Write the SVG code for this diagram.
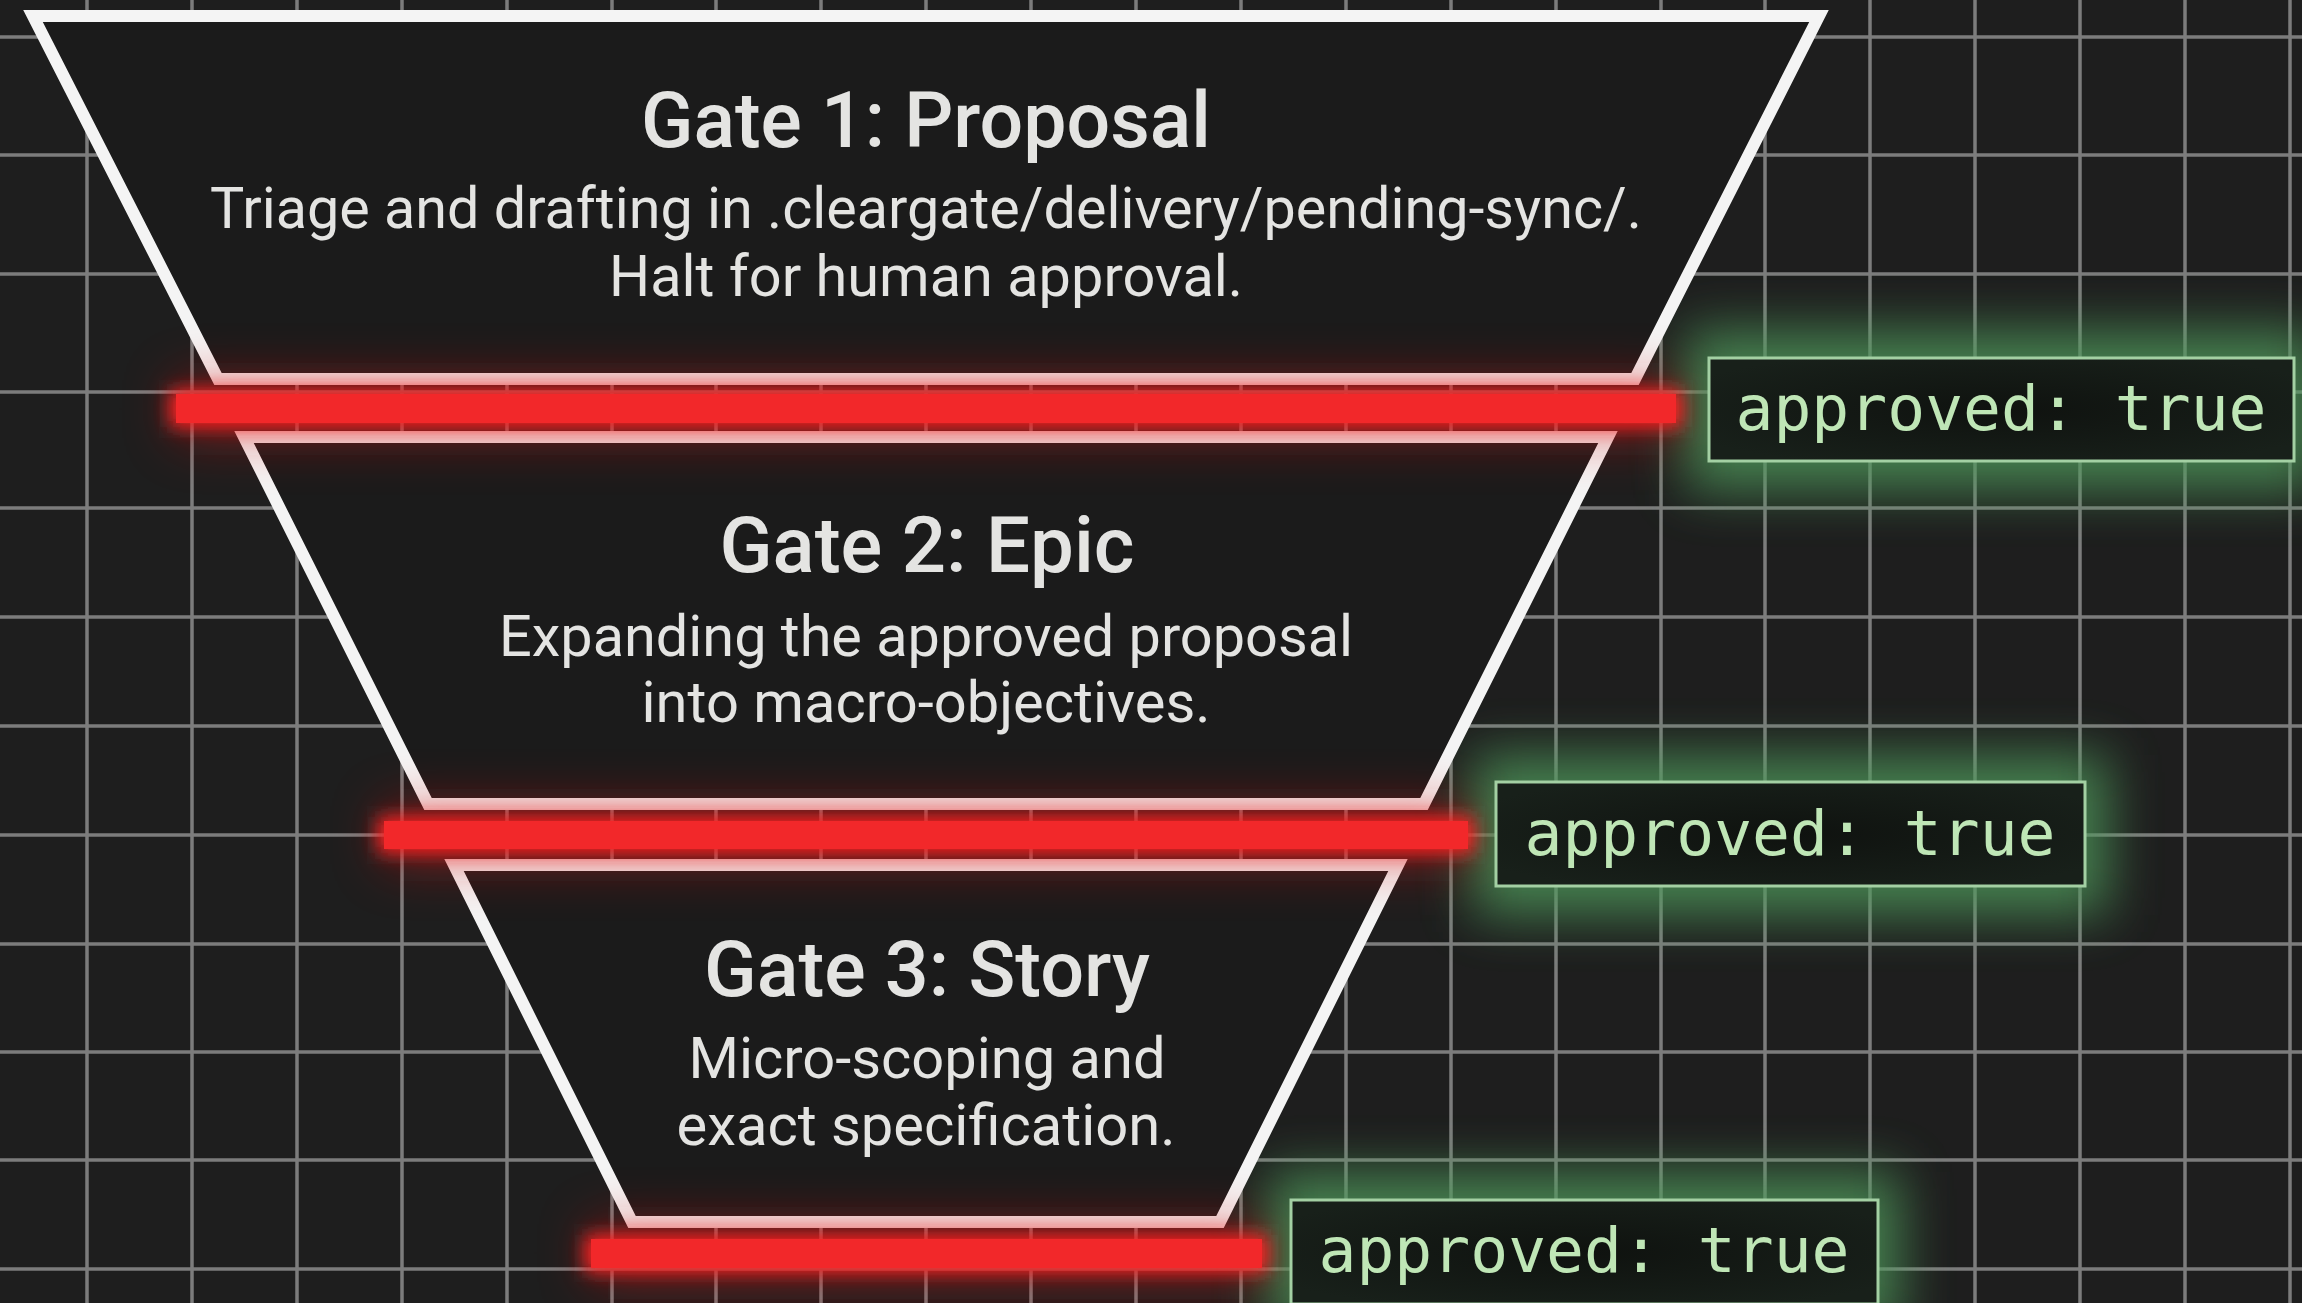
<svg xmlns="http://www.w3.org/2000/svg" width="2302" height="1303" viewBox="0 0 2302 1303">
<defs>
<style>
.grid line{stroke:#7c7c7c;stroke-width:3.5}
.trap{fill:#1b1b1b;stroke:#f4f4f4;stroke-width:12;stroke-linejoin:miter}
.title{font-family:Roboto,"Liberation Sans",sans-serif;font-weight:500;font-size:78px;fill:#e4e4e2;text-anchor:middle}
.sub{font-family:Roboto,"Liberation Sans",sans-serif;font-weight:400;font-size:58px;fill:#e4e4e2;text-anchor:middle}
.bar{fill:#f2282a}
.glowr{fill:#ff2020;filter:url(#blurR)}
.hazer{fill:#d01818;opacity:0.5;filter:url(#blurRH)}
.glowg{fill:#4f9a5c;opacity:0.8;filter:url(#blurG)}
.box{fill:url(#boxFill);stroke:#a3d0a3;stroke-width:3}
.code{font-family:"DejaVu Sans Mono","Liberation Mono",monospace;font-size:63px;fill:#bfe6b6;text-anchor:middle}
</style>
<filter id="blurR" x="-20%" y="-200%" width="140%" height="500%"><feGaussianBlur stdDeviation="9"/></filter>
<filter id="blurRH" x="-20%" y="-300%" width="140%" height="700%"><feGaussianBlur stdDeviation="26"/></filter>
<filter id="blurG" x="-30%" y="-100%" width="160%" height="300%"><feGaussianBlur stdDeviation="26"/></filter>
<radialGradient id="boxFill" cx="0.5" cy="0.5" r="0.6">
<stop offset="0" stop-color="#0f120f"/>
<stop offset="1" stop-color="#18201a"/>
</radialGradient>
</defs>
<rect width="2302" height="1303" fill="#1e1e1e"/>
<g id="grid" class="grid">
<line x1="87" y1="0" x2="87" y2="1303"/><line x1="192" y1="0" x2="192" y2="1303"/><line x1="297" y1="0" x2="297" y2="1303"/><line x1="402" y1="0" x2="402" y2="1303"/><line x1="507" y1="0" x2="507" y2="1303"/><line x1="612" y1="0" x2="612" y2="1303"/><line x1="716" y1="0" x2="716" y2="1303"/><line x1="821" y1="0" x2="821" y2="1303"/><line x1="926" y1="0" x2="926" y2="1303"/><line x1="1031" y1="0" x2="1031" y2="1303"/><line x1="1136" y1="0" x2="1136" y2="1303"/><line x1="1241" y1="0" x2="1241" y2="1303"/><line x1="1346" y1="0" x2="1346" y2="1303"/><line x1="1451" y1="0" x2="1451" y2="1303"/><line x1="1556" y1="0" x2="1556" y2="1303"/><line x1="1661" y1="0" x2="1661" y2="1303"/><line x1="1765" y1="0" x2="1765" y2="1303"/><line x1="1870" y1="0" x2="1870" y2="1303"/><line x1="1975" y1="0" x2="1975" y2="1303"/><line x1="2080" y1="0" x2="2080" y2="1303"/><line x1="2185" y1="0" x2="2185" y2="1303"/><line x1="2290" y1="0" x2="2290" y2="1303"/>
<line x1="0" y1="37" x2="2302" y2="37"/><line x1="0" y1="155" x2="2302" y2="155"/><line x1="0" y1="274" x2="2302" y2="274"/><line x1="0" y1="392" x2="2302" y2="392"/><line x1="0" y1="508" x2="2302" y2="508"/><line x1="0" y1="617" x2="2302" y2="617"/><line x1="0" y1="726" x2="2302" y2="726"/><line x1="0" y1="835" x2="2302" y2="835"/><line x1="0" y1="944" x2="2302" y2="944"/><line x1="0" y1="1052" x2="2302" y2="1052"/><line x1="0" y1="1160" x2="2302" y2="1160"/><line x1="0" y1="1269" x2="2302" y2="1269"/>
</g>
<g id="glow-green">
<rect class="glowg" x="1685" y="330" width="632" height="160"/>
<rect class="glowg" x="1472" y="755" width="636" height="160"/>
<rect class="glowg" x="1268" y="1172" width="632" height="160"/>
</g>
<g id="gate1">
<polygon class="trap" points="33,16 1819,16 1635,379 218,379"/>
<text class="title" x="926" y="147" textLength="570" lengthAdjust="spacingAndGlyphs">Gate 1: Proposal</text>
<text class="sub" x="926" y="228" textLength="1432" lengthAdjust="spacingAndGlyphs">Triage and drafting in .cleargate/delivery/pending-sync/.</text>
<text class="sub" x="926" y="296" textLength="634" lengthAdjust="spacingAndGlyphs">Halt for human approval.</text>
</g>
<g id="gate2">
<polygon class="trap" points="244,437 1608,437 1424,804 428,804"/>
<text class="title" x="927" y="572" textLength="415" lengthAdjust="spacingAndGlyphs">Gate 2: Epic</text>
<text class="sub" x="926" y="656" textLength="854" lengthAdjust="spacingAndGlyphs">Expanding the approved proposal</text>
<text class="sub" x="926" y="722" textLength="569" lengthAdjust="spacingAndGlyphs">into macro-objectives.</text>
</g>
<g id="gate3">
<polygon class="trap" points="454,865 1398,865 1220,1222 632,1222"/>
<text class="title" x="927" y="996" textLength="446" lengthAdjust="spacingAndGlyphs">Gate 3: Story</text>
<text class="sub" x="927" y="1078" textLength="477" lengthAdjust="spacingAndGlyphs">Micro-scoping and</text>
<text class="sub" x="926" y="1145" textLength="499" lengthAdjust="spacingAndGlyphs">exact specification.</text>
</g>
<g id="connectors">
<g id="barrier1">
<rect class="hazer" x="176" y="380" width="1500" height="58"/>
<rect class="glowr" x="170" y="390" width="1512" height="37"/>
<rect class="bar" x="176" y="394" width="1500" height="29"/>
</g>
<g id="barrier2">
<rect class="hazer" x="384" y="806" width="1084" height="58"/>
<rect class="glowr" x="378" y="817" width="1096" height="36"/>
<rect class="bar" x="384" y="821" width="1084" height="28"/>
</g>
<g id="barrier3">
<rect class="hazer" x="591" y="1224" width="671" height="58"/>
<rect class="glowr" x="585" y="1235" width="683" height="37"/>
<rect class="bar" x="591" y="1239" width="671" height="29"/>
</g>
</g>
<g id="approval1">
<rect class="box" x="1709" y="358" width="585" height="103"/>
<text class="code" x="2001" y="430">approved: true</text>
</g>
<g id="approval2">
<rect class="box" x="1496" y="782" width="589" height="104"/>
<text class="code" x="1790" y="855">approved: true</text>
</g>
<g id="approval3">
<rect class="box" x="1291" y="1200" width="587" height="104"/>
<text class="code" x="1584" y="1272">approved: true</text>
</g>
</svg>
